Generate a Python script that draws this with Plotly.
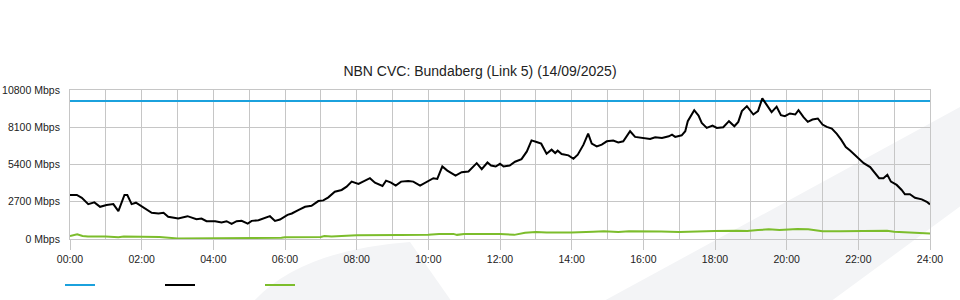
import plotly.graph_objects as go

# ---- data ----
title_text = "NBN CVC: Bundaberg (Link 5) (14/09/2025)"
x_tick_hours = [0, 2, 4, 6, 8, 10, 12, 14, 16, 18, 20, 22, 24]
x_tick_labels = ["00:00", "02:00", "04:00", "06:00", "08:00", "10:00", "12:00",
                 "14:00", "16:00", "18:00", "20:00", "22:00", "24:00"]
y_ticks = [0, 2700, 5400, 8100, 10800]
y_tick_labels = ["0 Mbps", "2700 Mbps", "5400 Mbps", "8100 Mbps", "10800 Mbps"]

capacity_hours = [0, 24]
capacity_mbps = [10000, 10000]

traffic_hours = [0.00, 0.19, 0.33, 0.51, 0.68, 0.84, 1.02, 1.21, 1.35, 1.52, 1.60, 1.72, 1.84, 2.00,
                 2.28, 2.47, 2.61, 2.74, 3.02, 3.28, 3.53, 3.67, 3.81, 4.05, 4.23, 4.37, 4.51, 4.65,
                 4.79, 4.96, 5.07, 5.26, 5.44, 5.58, 5.72, 5.86, 6.07, 6.19, 6.37, 6.56, 6.74, 6.93,
                 7.07, 7.21, 7.39, 7.58, 7.72, 7.86, 8.05, 8.23, 8.37, 8.51, 8.72, 8.82, 8.96, 9.09,
                 9.24, 9.44, 9.58, 9.77, 9.95, 10.14, 10.25, 10.39, 10.53, 10.76, 10.93, 11.12, 11.35,
                 11.49, 11.65, 11.75, 11.88, 12.00, 12.10, 12.27, 12.42, 12.60, 12.75, 12.88, 13.02,
                 13.15, 13.30, 13.44, 13.54, 13.61, 13.72, 13.91, 14.05, 14.17, 14.33, 14.46, 14.56,
                 14.70, 14.84, 14.98, 15.16, 15.30, 15.44, 15.63, 15.77, 15.96, 16.19, 16.33, 16.52,
                 16.71, 16.80, 16.89, 17.07, 17.17, 17.24, 17.42, 17.54, 17.63, 17.77, 17.93, 18.05,
                 18.23, 18.39, 18.54, 18.65, 18.75, 18.89, 19.07, 19.20, 19.32, 19.44, 19.58, 19.72,
                 19.84, 19.95, 20.09, 20.24, 20.33, 20.47, 20.59, 20.72, 20.87, 21.00, 21.12, 21.26,
                 21.40, 21.52, 21.65, 21.77, 21.96, 22.15, 22.33, 22.47, 22.58, 22.70, 22.81, 22.91,
                 23.07, 23.21, 23.30, 23.44, 23.58, 23.77, 23.91, 24.00]
traffic_mbps = [3190, 3190, 2990, 2530, 2655, 2335, 2460, 2530, 2020, 3190, 3190, 2530, 2630, 2385,
                1900, 1850, 1900, 1605, 1485, 1655, 1435, 1485, 1290, 1290, 1195, 1290, 1095, 1290,
                1315, 1120, 1315, 1365, 1535, 1655, 1315, 1410, 1750, 1850, 2095, 2335, 2410, 2750,
                2800, 3020, 3430, 3555, 3795, 4160, 3990, 4210, 4405, 4085, 3845, 4230, 4085, 3870,
                4160, 4210, 4160, 3870, 4115, 4405, 4355, 5255, 4960, 4600, 4845, 4895, 5500,
                5065, 5545, 5330, 5255, 5450, 5255, 5330, 5600, 5790, 6350, 7150, 7035,
                6910, 6180, 6475, 6230, 6400, 6160, 6060, 5815, 6110, 6840, 7640, 6910,
                6715, 6840, 7080, 7130, 7005, 7080, 7810, 7400, 7325, 7250, 7375, 7325,
                7445, 7565, 7400, 7515, 7810, 8540, 9340, 8950, 8420, 8055, 8225, 8055,
                8105, 8540, 8175, 8490, 9270, 9630, 9025, 9270, 10195, 9755, 9195, 9590,
                8975, 8900, 9100, 9025, 9340, 8830, 8490, 8660, 8735, 8295, 8130, 8005,
                7615, 7200, 6670, 6420, 5940, 5500, 5210, 4770, 4405, 4405, 4650, 4160,
                3920, 3555, 3240, 3240, 2990, 2875, 2700, 2510]

other_hours = [0.0, 0.2, 0.35, 0.5, 1.0, 1.35, 1.5, 2.0, 2.5, 3.0, 3.5, 4.0, 4.2, 4.35, 4.6, 4.8,
               5.5, 5.9, 6.0, 7.0, 7.1, 7.3, 8.0, 9.0, 9.2, 10.0, 10.3, 10.7, 10.8, 11.0, 12.0,
               12.4, 12.7, 13.0, 13.3, 14.0, 14.3, 14.6, 14.9, 15.3, 15.6, 16.0, 16.5, 17.0, 17.5,
               18.0, 18.6, 18.9, 19.2, 19.5, 19.8, 20.0, 20.3, 20.6, 21.0, 21.5, 22.0, 22.3, 22.5,
               22.8, 23.0, 23.3, 23.6, 24.0]
other_mbps = [220, 340, 220, 180, 180, 120, 180, 180, 150, 40, 40, 40, 90, 40, 90, 40,
              40, 90, 130, 150, 220, 180, 270, 320, 290, 300, 370, 370, 300, 360, 360,
              300, 450, 510, 470, 470, 520, 520, 560, 500, 560, 560, 540, 500, 560,
              580, 600, 580, 650, 700, 650, 680, 730, 700, 560, 560, 560, 600, 570,
              600, 520, 480, 430, 400]

# ---- figure ----
W, H = 960, 300
ML, MR, MT, MB = 70, 30, 90, 61
GRID = "#c6c6c6"
TXT = "#222222"

fig = go.Figure()
fig.add_trace(go.Scatter(x=capacity_hours, y=capacity_mbps, mode="lines", name="",
                         line=dict(color="#1ba1dd", width=2), hoverinfo="skip"))
fig.add_trace(go.Scatter(x=traffic_hours, y=traffic_mbps, mode="lines", name=" ",
                         line=dict(color="#000000", width=2)))
fig.add_trace(go.Scatter(x=other_hours, y=other_mbps, mode="lines", name="  ",
                         line=dict(color="#7cbd2c", width=2)))

# faint background watermark (decorative, page-pixel positions converted to paper coords)
def px(x):
    return (x - ML) / (W - ML - MR)

def py(y):
    return (H - MB - y) / (H - MT - MB)

wm = "#f3f4f6"
fig.add_shape(type="path", xref="paper", yref="paper", layer="below",
              path=f"M {px(253)},{py(302)} Q {px(300)},{py(250)} {px(410)},{py(242)} L {px(452)},{py(302)} Z",
              fillcolor=wm, line=dict(width=0))
fig.add_shape(type="path", xref="paper", yref="paper", layer="below",
              path=f"M {px(602)},{py(302)} L {px(962)},{py(106)} L {px(962)},{py(205)} L {px(830)},{py(302)} Z",
              fillcolor=wm, line=dict(width=0))

fig.update_layout(
    width=W, height=H,
    margin=dict(l=ML, r=MR, t=MT, b=MB, pad=0, autoexpand=False),
    paper_bgcolor="white",
    plot_bgcolor="rgba(0,0,0,0)",
    font=dict(family="Liberation Sans, Arial, sans-serif", size=10.5, color=TXT),
    title=dict(text=title_text, x=0.5, xref="container", xanchor="center",
               y=1 - 71 / H, yref="container", yanchor="middle",
               font=dict(size=14, color=TXT)),
    showlegend=True,
    legend=dict(orientation="h", xref="container", yref="container",
                x=60 / W, y=1 - 285 / H, xanchor="left", yanchor="middle",
                entrywidth=55, entrywidthmode="pixels", itemwidth=30,
                font=dict(size=11), bgcolor="rgba(0,0,0,0)"),
    hovermode=False,
)

fig.update_xaxes(
    range=[0, 24], tickmode="array", tickvals=x_tick_hours, ticktext=x_tick_labels,
    ticks="outside", ticklen=10, tickcolor=GRID, tickwidth=1,
    tickfont=dict(size=10.5),
    showgrid=True, gridcolor=GRID, gridwidth=1,
    minor=dict(dtick=1, tick0=0, showgrid=True, gridcolor=GRID, gridwidth=1, ticks=""),
    showline=True, linecolor=GRID, linewidth=1, mirror=True,
    zeroline=False, fixedrange=True, automargin=False,
)
fig.update_yaxes(
    range=[0, 10800], tickmode="array", tickvals=y_ticks, ticktext=y_tick_labels,
    ticks="", ticklabelstandoff=7, tickfont=dict(size=10.5),
    showgrid=True, gridcolor=GRID, gridwidth=1,
    showline=True, linecolor=GRID, linewidth=1, mirror=True,
    zeroline=False, fixedrange=True, automargin=False,
)

fig.write_html("out.html")
